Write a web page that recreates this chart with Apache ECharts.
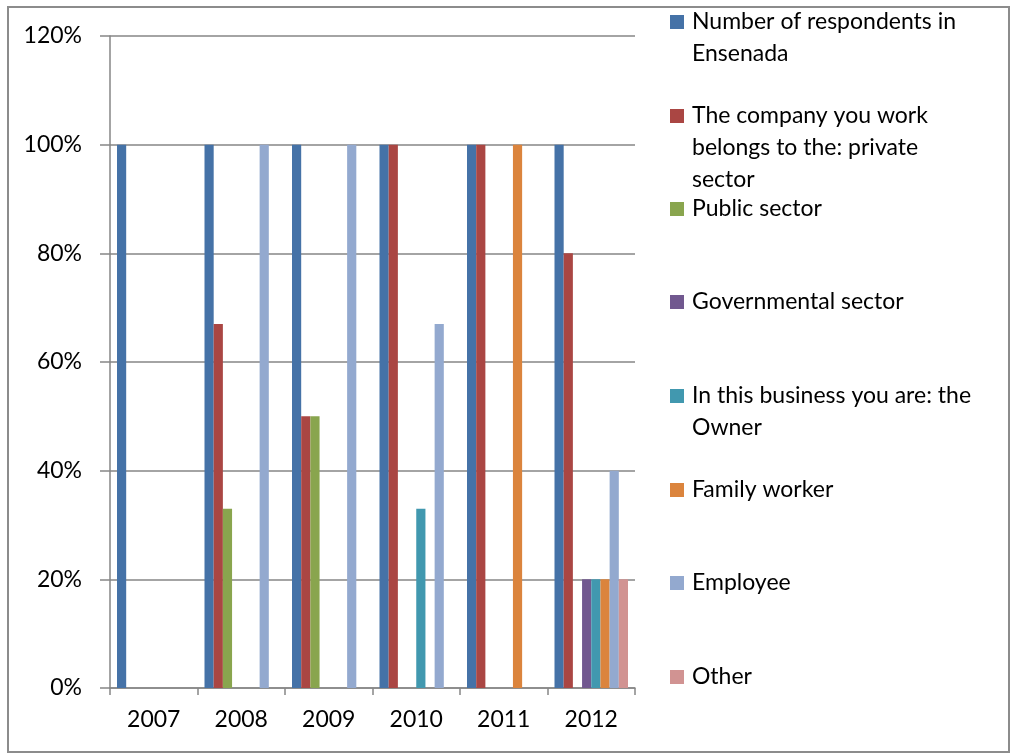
<!DOCTYPE html>
<html>
<head>
<meta charset="utf-8">
<script src="https://cdn.jsdelivr.net/npm/echarts@6/dist/echarts.min.js"></script>
<style>
  html, body { margin: 0; padding: 0; background: #fff; }
  #chart { width: 1011px; height: 754px; }
</style>
</head>
<body>
<div id="chart"></div>
<script>
// Survey years on the category axis
const years = ['2007', '2008', '2009', '2010', '2011', '2012'];

// Share of respondents (%) per year for each answer
const respondents   = [100, 100, 100, 100, 100, 100];
const privateSector = [0, 67, 50, 100, 100, 80];
const publicSector  = [0, 33, 50, 0, 0, 0];
const governmental  = [0, 0, 0, 0, 0, 20];
const owner         = [0, 0, 0, 33, 0, 20];
const familyWorker  = [0, 0, 0, 0, 100, 20];
const employee      = [0, 100, 100, 67, 0, 40];
const other         = [0, 0, 0, 0, 0, 20];

// Value axis ticks
const yTicks = [0, 20, 40, 60, 80, 100, 120];

// Series names as shown in the legend (line breaks included)
const seriesNames = [
  'Number of respondents in\nEnsenada',
  'The company you work\nbelongs to the: private\nsector',
  'Public sector',
  'Governmental sector',
  'In this business you are: the\nOwner',
  'Family worker',
  'Employee',
  'Other'
];
const seriesData = [respondents, privateSector, publicSector, governmental,
                    owner, familyWorker, employee, other];
const colors = ['#4572A7', '#AA4643', '#89A54E', '#71588F',
                '#4198AF', '#DB843D', '#93A9CF', '#D19392'];

const FONT = 'Lato, "Open Sans", sans-serif';
const FONT_SIZE = 23;
const LINE_H = 32;
const ICON = 14;

// One legend block per series, each starting at its own fixed slot.
// The icon path is a square at the top of a taller box so the square
// lines up with the first text line of a multi-line name.
const legendFirstLineY = [21, 115, 208, 301, 395, 489, 582, 676];
const legends = seriesNames.map((name, i) => {
  const lines = name.split('\n').length;
  const h = lines === 1 ? ICON : lines * LINE_H - (LINE_H - ICON);
  return {
    show: true,
    orient: 'vertical',
    left: 670,
    top: legendFirstLineY[i] - LINE_H / 2 + 1,
    padding: 0,
    itemWidth: ICON,
    itemHeight: h,
    icon: 'path://M0,0H' + ICON + 'V' + ICON + 'H0Z M0,' + h + 'L0.01,' + h,
    data: [name],
    textStyle: {
      fontFamily: FONT,
      fontSize: FONT_SIZE,
      color: '#000',
      lineHeight: LINE_H,
      padding: [0, 0, 0, 3]
    }
  };
});

const chart = echarts.init(document.getElementById('chart'), null, { renderer: 'canvas' });

chart.setOption({
  backgroundColor: '#fff',
  animation: false,
  color: colors,
  legend: legends,
  grid: { left: 110, right: 376, top: 36, bottom: 66 },
  xAxis: {
    type: 'category',
    data: years,
    axisLine: { lineStyle: { color: '#868686', width: 1.5 } },
    axisTick: { show: true, length: 7, lineStyle: { color: '#868686', width: 1.5 } },
    axisLabel: { color: '#000', fontFamily: FONT, fontSize: FONT_SIZE, margin: 20 }
  },
  yAxis: {
    type: 'value',
    min: yTicks[0],
    max: yTicks[yTicks.length - 1],
    interval: yTicks[1] - yTicks[0],
    axisLine: { show: true, lineStyle: { color: '#868686', width: 1.5 } },
    axisTick: { show: true, length: 10, lineStyle: { color: '#868686', width: 1.5 } },
    axisLabel: { color: '#000', fontFamily: FONT, fontSize: FONT_SIZE, margin: 28, formatter: '{value}%' },
    splitLine: { lineStyle: { color: '#868686', width: 1.5 } }
  },
  series: seriesNames.map((name, i) => ({
    name: name,
    type: 'bar',
    data: seriesData[i],
    barGap: '0%',
    barCategoryGap: '16%',
    itemStyle: { color: colors[i] }
  })),
  graphic: [{
    type: 'rect',
    shape: { x: 8, y: 7, width: 1001, height: 745 },
    style: { fill: 'none', stroke: '#8c8c8c', lineWidth: 2 },
    silent: true,
    z: -1
  }]
});
</script>
</body>
</html>
